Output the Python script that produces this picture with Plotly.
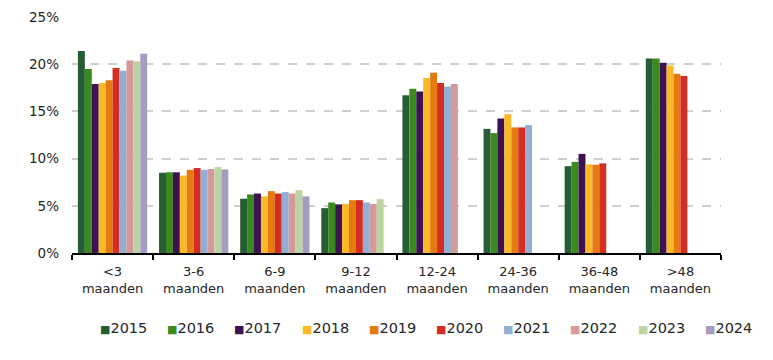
import plotly.graph_objects as go

categories = ["<3<br>maanden", "3-6<br>maanden", "6-9<br>maanden", "9-12<br>maanden",
              "12-24<br>maanden", "24-36<br>maanden", "36-48<br>maanden", ">48<br>maanden"]
years = ["2015", "2016", "2017", "2018", "2019", "2020", "2021", "2022", "2023", "2024"]
colors = ["#255E35", "#3A8A1E", "#3D1152", "#FDB827", "#E57A10", "#D42E22",
          "#92AED4", "#D49A9A", "#BCD3A3", "#A69BC1"]

v2015 = [21.4, 8.5, 5.75, 4.75, 16.7, 13.15, 9.2, 20.6]
v2016 = [19.5, 8.55, 6.2, 5.35, 17.4, 12.7, 9.65, 20.6]
v2017 = [17.9, 8.55, 6.3, 5.15, 17.1, 14.25, 10.5, 20.15]
v2018 = [18.0, 8.2, 6.0, 5.2, 18.55, 14.7, 9.4, 19.85]
v2019 = [18.3, 8.8, 6.55, 5.6, 19.1, 13.3, 9.35, 19.0]
v2020 = [19.6, 9.0, 6.3, 5.6, 18.0, 13.3, 9.5, 18.75]
v2021 = [19.3, 8.8, 6.45, 5.35, 17.65, 13.55, None, None]
v2022 = [20.4, 8.9, 6.3, 5.2, 17.9, None, None, None]
v2023 = [20.3, 9.1, 6.65, 5.7, None, None, None, None]
v2024 = [21.1, 8.85, 6.0, None, None, None, None, None]
series = [v2015, v2016, v2017, v2018, v2019, v2020, v2021, v2022, v2023, v2024]

yticks = [0, 5, 10, 15, 20, 25]
yticklabels = [f"{v}%" for v in yticks]

fig = go.Figure()
for name, vals, col in zip(years, series, colors):
    fig.add_trace(go.Bar(x=categories, y=vals, name=name, marker_color=col,
                         marker_line_width=0, showlegend=False))

font_color = "#262626"

# page body has an 8px margin: shrink the figure so it fills the 773x360 window
OFF = 8
plot_left, plot_w = 72 - OFF, 649
for i, (name, col) in enumerate(zip(years, colors)):
    px = 98 - OFF + i * 67.2
    fig.add_annotation(
        xref="paper", yref="paper", x=(px - plot_left) / plot_w, y=-0.318,
        xanchor="left", yanchor="middle", showarrow=False,
        text=f"<span style='color:{col};font-size:11px'>■</span>{name}",
        font=dict(family="DejaVu Sans", size=14.5, color=font_color),
    )

fig.update_layout(
    width=773 - OFF, height=360 - OFF,
    margin=dict(l=72 - OFF, r=52, t=17 - OFF, b=107, autoexpand=False),
    paper_bgcolor="white", plot_bgcolor="white",
    barmode="group", bargap=0.146, bargroupgap=0,
    font=dict(family="DejaVu Sans", size=13, color=font_color),
    showlegend=False,
    xaxis=dict(showline=True, linecolor="black", linewidth=1.5,
               ticks="outside", tickson="boundaries", ticklen=5, tickcolor="black",
               tickwidth=1.5, tickfont=dict(size=13, color=font_color),
               showgrid=False, ticklabelstandoff=6),
    yaxis=dict(range=[0, 25], tickmode="array", tickvals=yticks, ticktext=yticklabels,
               showline=False, zeroline=False,
               showgrid=True, gridcolor="#CFCFCF", griddash="dash", gridwidth=1.5,
               tickfont=dict(size=13.5, color=font_color), ticklabelstandoff=12),
)

fig.write_html("out.html")
